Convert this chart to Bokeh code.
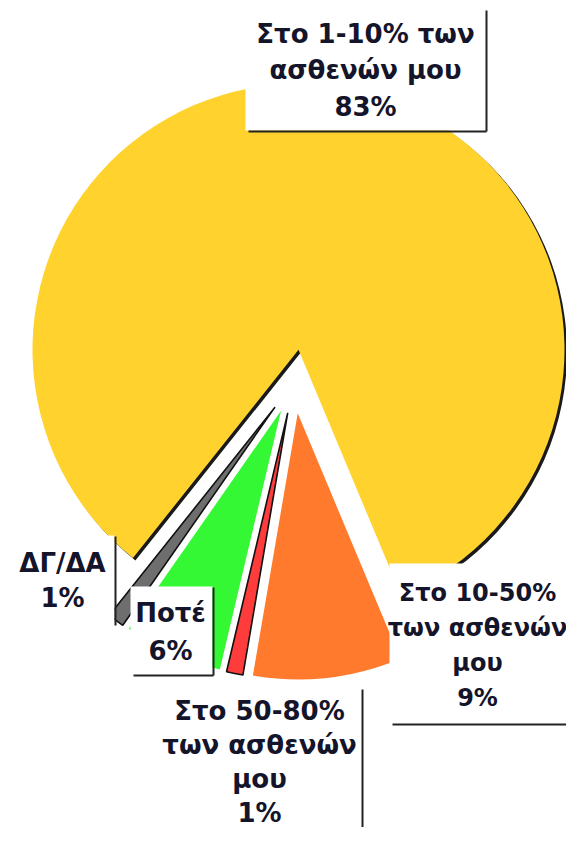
import numpy as np
from bokeh.plotting import figure
from bokeh.models import Range1d, ColumnDataSource
from bokeh.core.properties import value
from bokeh.embed import file_html
from bokeh.resources import INLINE

# ---- data ----
categories = ["Στο 1-10% των ασθενών μου", "Στο 10-50% των ασθενών μου",
              "Στο 50-80% των ασθενών μου", "Ποτέ", "ΔΓ/ΔΑ"]
values = [83, 9, 1, 6, 1]
label_lines = [["Στο 1-10% των", "ασθενών μου"],
               ["Στο 10-50%", "των ασθενών", "μου"],
               ["Στο 50-80%", "των ασθενών", "μου"],
               ["Ποτέ"],
               ["ΔΓ/ΔΑ"]]
colors = ["#FFD22E", "#FF7A2C", "#FF3C3C", "#33F833", "#6E6E6E"]
outline = [None, None, "#111111", None, "#111111"]
shadow = [True, False, False, False, False]

# ---- layout (reference pixel coords, y downwards) ----
W, H = 566, 827
def sy(y):
    return H - y

CX, CY = 293.6, 381.0      # pie centre
R = 266.0
EXPLODE = 32.0
FIRST_ANGLE = 231.5        # degrees, start of first slice, clockwise order

FONT = "DejaVu Sans"
TXT = "#14142a"

# label anchors: (centre x, first line y, line spacing, font size)
anchors = [(365, 33, 36.5, "26px"),
           (477, 592, 35, "24px"),
           (259, 710, 34, "26px"),
           (170, 612, 38, "26px"),
           (62, 562, 35, "26px")]
# boxes: left, right, top, bottom, shadow right?, shadow bottom?
boxes = [(245, 485, 9, 130, True, True),
         (389, 600, 563, 723, False, True),
         (150, 361, 688, 860, True, False),
         (130, 212, 586, 674, True, True),
         (5, 114, 535, 624, True, False)]

p = figure(width=W, height=H, output_backend="svg", toolbar_location=None,
           x_range=Range1d(0, W), y_range=Range1d(0, H), min_border=0)
p.axis.visible = False
p.grid.visible = False
p.outline_line_color = None
p.background_fill_color = "white"
p.border_fill_color = "white"

vals = np.array(values, dtype=float)
cum = np.concatenate([[0], np.cumsum(vals)]) / vals.sum() * 360.0
start_deg = FIRST_ANGLE - cum[1:]
end_deg = FIRST_ANGLE - cum[:-1]
mid = np.radians((start_deg + end_deg) / 2)
xs = CX + EXPLODE * np.cos(mid)
ys = sy(CY) + EXPLODE * np.sin(mid)

# shadows
for i in range(len(values)):
    if shadow[i]:
        p.wedge(x=xs[i] + 2.5, y=ys[i] - 2.5, radius=R,
                start_angle=np.radians(start_deg[i]), end_angle=np.radians(end_deg[i]),
                fill_color="#1a1a1a", line_color=None)

for i in range(len(values)):
    kw = dict(line_color=outline[i], line_width=1.6) if outline[i] else dict(line_color=None)
    p.wedge(x=xs[i], y=ys[i], radius=R,
            start_angle=np.radians(start_deg[i]), end_angle=np.radians(end_deg[i]),
            fill_color=colors[i], **kw)

# label boxes
for (l, r, t, b, sr, sb) in boxes:
    p.quad(left=l, right=r, top=sy(t), bottom=sy(b), fill_color="white", line_color=None)
    if sr:
        p.segment(x0=r + 1, y0=sy(t + 1), x1=r + 1, y1=sy(b + 1), line_color="#222222", line_width=2)
    if sb:
        p.segment(x0=l + 3, y0=sy(b + 1), x1=r + 1, y1=sy(b + 1), line_color="#222222", line_width=2)

# label text
tx, ty, tt, fs = [], [], [], []
for i, lines in enumerate(label_lines):
    ax, ay, dy, size = anchors[i]
    all_lines = lines + [f"{values[i]}%"]
    for j, s in enumerate(all_lines):
        tx.append(ax)
        ty.append(sy(ay + j * dy))
        tt.append(s)
        fs.append(size)
src = ColumnDataSource(dict(x=tx, y=ty, text=tt, fs=fs))
p.text(x="x", y="y", text="text", source=src, text_align="center", text_baseline="middle",
       text_font=value(FONT), text_font_style="bold", text_font_size="fs", text_color=TXT)

open("out.html", "w").write(file_html(p, INLINE))
